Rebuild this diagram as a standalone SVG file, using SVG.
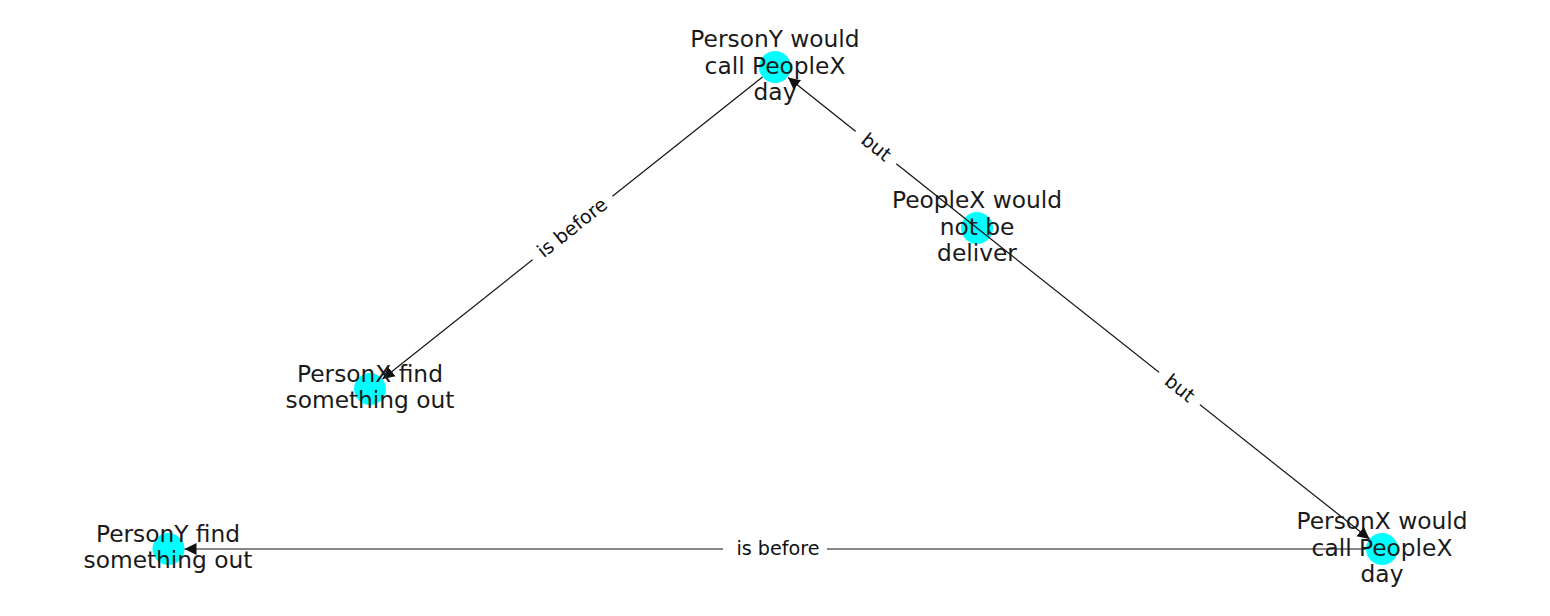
<svg xmlns="http://www.w3.org/2000/svg" width="1550" height="616" viewBox="0 0 1550 616">
<style>
.node circle{fill:#00ffff;stroke:none}
.node text{font-family:"DejaVu Sans",sans-serif;font-size:23.3px;fill:#1a1a1a;text-anchor:middle}
.edge line{stroke:#111;stroke-width:1.2;fill:none}
.lbl rect{fill:#fff;stroke:none}
.lbl text{font-family:"DejaVu Sans",sans-serif;font-size:19.2px;fill:#111;text-anchor:middle}
</style>
<defs>
<marker id="arr" markerUnits="userSpaceOnUse" markerWidth="14" markerHeight="14" viewBox="0 0 14 14" refX="12" refY="7" orient="auto">
<path d="M0,1 L12,7 L0,13 Z" fill="#111"/>
</marker>
</defs>
<rect width="1550" height="616" fill="#fff"/>
<g id="nodes-circles">
</g>
<g id="n-a" class="node"><circle cx="775" cy="67" r="16"/></g>
<g id="n-b" class="node"><circle cx="977" cy="228" r="16"/></g>
<g id="n-c" class="node"><circle cx="370" cy="389" r="16"/></g>
<g id="n-d" class="node"><circle cx="168.5" cy="549" r="16"/></g>
<g id="n-e" class="node"><circle cx="1382" cy="549" r="16"/></g>
<g id="edges" class="edge">
<line x1="762.5" y1="77" x2="382.5" y2="379" marker-end="url(#arr)"/>
<line x1="977" y1="228" x2="788" y2="77.5" marker-end="url(#arr)"/>
<line x1="977" y1="228" x2="1369.5" y2="539" marker-end="url(#arr)"/>
<line x1="1366" y1="549" x2="184.5" y2="549" marker-end="url(#arr)"/>
<g class="lbl" transform="translate(572.5,228) rotate(-38.5)"><rect x="-51" y="-14" width="102" height="28"/><text x="0" y="6">is before</text></g>
<g class="lbl" transform="translate(876,147.5) rotate(38.6)"><rect x="-26" y="-14" width="52" height="28"/><text x="0" y="6">but</text></g>
<g class="lbl" transform="translate(1179.5,388.5) rotate(38.4)"><rect x="-26" y="-14" width="52" height="28"/><text x="0" y="6">but</text></g>
<g class="lbl" transform="translate(775,549)"><rect x="-52" y="-14" width="104" height="28"/><text x="3" y="6">is before</text></g>
</g>
<g id="labels-a" class="node"><text x="775" y="47">PersonY would</text><text x="775" y="73.5">call PeopleX</text><text x="775" y="100">day</text></g>
<g id="labels-b" class="node"><text x="977" y="208">PeopleX would</text><text x="977" y="234.5">not be</text><text x="977" y="261">deliver</text></g>
<g id="labels-c" class="node"><text x="370" y="382">PersonX find</text><text x="370" y="408">something out</text></g>
<g id="labels-d" class="node"><text x="168" y="542">PersonY find</text><text x="168" y="568">something out</text></g>
<g id="labels-e" class="node"><text x="1382" y="529">PersonX would</text><text x="1382" y="555.5">call PeopleX</text><text x="1382" y="582">day</text></g>
</svg>
